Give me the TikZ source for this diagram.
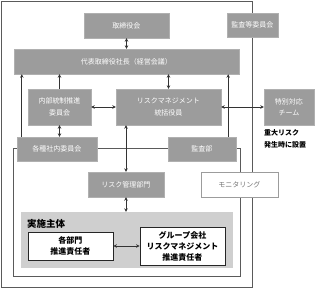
\documentclass[tikz,border=0pt]{standalone}
\usepackage{fontspec}
\setmainfont{Noto Sans CJK JP}
\usepackage{xcolor}
\usetikzlibrary{arrows.meta,positioning,calc}
\definecolor{boxgray}{HTML}{9C9C9C}
\definecolor{areagray}{HTML}{CFCFCF}
\definecolor{framegray}{HTML}{5A5A5A}
\definecolor{linegray}{HTML}{333333}
\begin{document}
\begin{tikzpicture}[
    x=1pt, y=-1pt,
    graybox/.style={
        rectangle,
        fill=boxgray,
        draw=boxgray!80!white,
        text=white,
        align=center,
        inner sep=1pt,
        font=\fontsize{7}{11.5}\selectfont
    },
    whitebox/.style={
        rectangle,
        fill=white,
        draw=black!85,
        line width=0.8pt,
        align=center,
        inner sep=1pt,
        font=\fontsize{8}{11}\selectfont\bfseries
    },
    frame/.style={
        draw=framegray,
        line width=0.7pt
    },
    arrow/.style={
        -{Stealth[length=3.5pt,width=3.5pt]},
        draw=linegray,
        line width=0.6pt
    },
    darrow/.style={
        {Stealth[length=3.5pt,width=3.5pt]}-{Stealth[length=3.5pt,width=3.5pt]},
        draw=linegray,
        line width=0.6pt
    }
]
\useasboundingbox (0,0) rectangle (317,290);

% Frames
\draw[frame] (1.5,1.5) rectangle (252,287.5);
\draw[frame] (13,148) rectangle (240,276);

% Implementation area
\node[fill=areagray, minimum width=212pt, minimum height=56pt, inner sep=0pt] (impl) at (127,240) {};
\node[anchor=west, font=\fontsize{9.5}{11}\selectfont\bfseries, inner sep=0pt] (impllabel) at (27,224) {実施主体};

% Top rows
\node[graybox, minimum width=85pt, minimum height=25pt] (board) at (126.5,25.5) {取締役会};
\node[graybox, minimum width=51pt, minimum height=24pt] (auditcom) at (252.5,25) {監査等委員会};
\node[graybox, minimum width=225pt, minimum height=25pt] (ceo) at (126.5,61.5) {代表取締役社長（経営会議）};

% Middle row
\node[graybox, minimum width=63pt, minimum height=36pt] (ic) at (59.5,107) {内部統制推進\\委員会};
\node[graybox, minimum width=105pt, minimum height=36pt] (rm) at (168.5,107) {リスクマネジメント\\統括役員};
\node[graybox, minimum width=50pt, minimum height=36pt] (special) at (289,107) {特別対応\\チーム};
\node[anchor=north west, align=left, inner sep=0pt, font=\fontsize{7}{12}\selectfont\bfseries] (note) at (264,129.5) {重大リスク\\発生時に設置};

% Lower rows
\node[graybox, minimum width=80pt, minimum height=24pt] (committees) at (57,149) {各種社内委員会};
\node[graybox, minimum width=68pt, minimum height=24pt] (audit) at (202,149) {監査部};
\node[graybox, minimum width=76pt, minimum height=25pt] (riskdept) at (126,184.5) {リスク管理部門};
\node[rectangle, fill=white, draw=boxgray, text=black!55, minimum width=77pt, minimum height=25pt, font=\fontsize{7}{9}\selectfont] (monitor) at (239.5,184.5) {モニタリング};

% Implementation boxes
\node[whitebox, minimum width=85pt, minimum height=28pt] (dept) at (70.5,246) {各部門\\推進責任者};
\node[whitebox, minimum width=85pt, minimum height=38pt] (group) at (182.5,246) {グループ会社\\リスクマネジメント\\推進責任者};

% Arrows
\draw[darrow] (board) -- (ceo);
\draw[arrow] ([xshift=5pt]committees.north west) -- ([xshift=5pt]committees.north west |- ceo.south);
\draw[arrow] (ic.north) -- (ic.north |- ceo.south);
\draw[darrow] (rm.north) -- (rm.north |- ceo.south);
\draw[arrow] ([xshift=-8pt]audit.north east) -- ([xshift=-8pt]audit.north east |- ceo.south);
\draw[darrow] (ic) -- (rm);
\draw[darrow] (rm) -- (special);
\draw[darrow] (ic.south) -- (ic.south |- committees.north);
\draw[darrow] (riskdept.north) -- (riskdept.north |- rm.south);
\draw[darrow] (riskdept.south) -- (riskdept.south |- impl.north);
\draw[darrow] (dept) -- (group);

\end{tikzpicture}
\end{document}
